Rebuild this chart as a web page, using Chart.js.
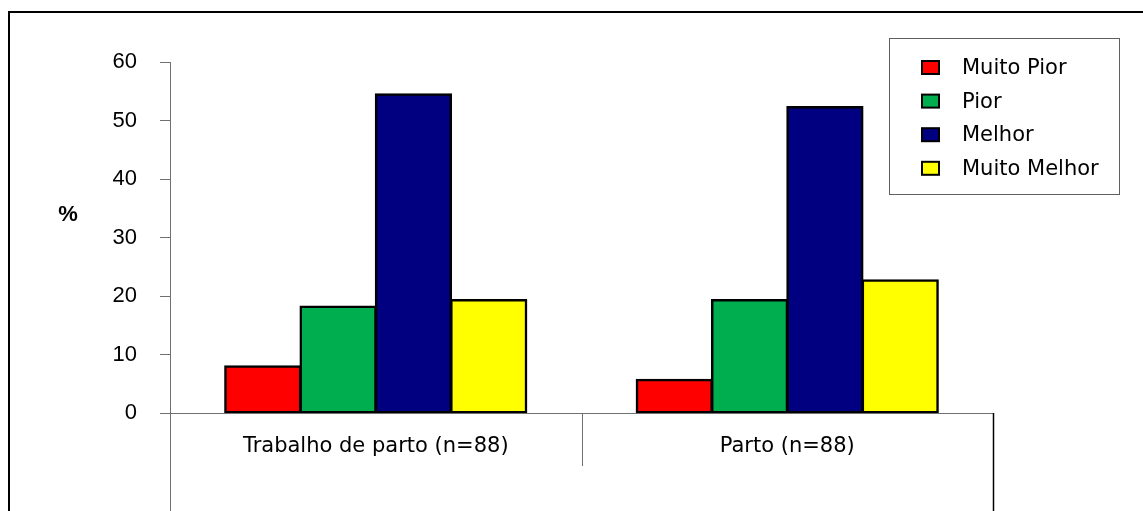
<!DOCTYPE html>
<html>
<head>
<meta charset="utf-8">
<script src="https://cdn.jsdelivr.net/npm/chart.js@4"></script>
<style>
  html, body { margin: 0; padding: 0; background: #fff; }
  canvas { display: block; }
</style>
</head>
<body>
<canvas id="chart" width="1143" height="511"></canvas>
<script>
// Categories and answer options (percent of n=88 in each group)
const categories = ['Trabalho de parto (n=88)', 'Parto (n=88)'];
const seriesNames = ['Muito Pior', 'Pior', 'Melhor', 'Muito Melhor'];
const muitoPior   = [8.0, 5.7];
const pior        = [18.2, 19.3];
const melhor      = [54.5, 52.3];
const muitoMelhor = [19.3, 22.7];
const seriesColors = ['#ff0000', '#00ae4f', '#000080', '#ffff00'];
const yTicks = [0, 10, 20, 30, 40, 50, 60];
const yTitle = '%';

const seriesValues = [muitoPior, pior, melhor, muitoMelhor];

// Outer frame, category dividers below the axis, y title and legend box
const framePlugin = {
  id: 'frame',
  beforeDraw(chart) {
    const ctx = chart.ctx;
    ctx.save();
    ctx.fillStyle = '#ffffff';
    ctx.fillRect(0, 0, chart.width, chart.height);
    ctx.strokeStyle = '#000000';
    ctx.lineWidth = 2;
    ctx.strokeRect(9, 12, chart.width + 20, chart.height + 20);
    ctx.restore();
  },
  afterDraw(chart) {
    const ctx = chart.ctx;
    const x = chart.scales.x;
    const area = chart.chartArea;
    const bottom = area.bottom;
    const mid = (x.getPixelForValue(0) + x.getPixelForValue(1)) / 2;
    ctx.save();
    ctx.lineWidth = 1;
    ctx.strokeStyle = '#707070';
    ctx.beginPath();
    ctx.moveTo(Math.round(area.left) + 0.5, bottom);
    ctx.lineTo(Math.round(area.left) + 0.5, chart.height);
    ctx.moveTo(Math.round(mid) + 0.5, bottom);
    ctx.lineTo(Math.round(mid) + 0.5, bottom + 53);
    ctx.stroke();
    ctx.strokeStyle = '#000000';
    ctx.lineWidth = 1.5;
    ctx.beginPath();
    ctx.moveTo(Math.round(area.right) + 0.5, bottom);
    ctx.lineTo(Math.round(area.right) + 0.5, chart.height);
    ctx.stroke();

    // y axis title
    ctx.fillStyle = '#000000';
    ctx.font = 'bold 22px "Liberation Sans", Arial, sans-serif';
    ctx.textAlign = 'center';
    ctx.textBaseline = 'middle';
    ctx.fillText(yTitle, 68, 215);

    // legend box
    const bx = 889, by = 38, bw = 230, bh = 156;
    ctx.strokeStyle = '#606060';
    ctx.lineWidth = 1;
    ctx.strokeRect(bx + 0.5, by + 0.5, bw, bh);
    ctx.font = '21px "DejaVu Sans", sans-serif';
    ctx.textAlign = 'left';
    chart.data.datasets.forEach((ds, i) => {
      const cy = 67.5 + i * 33.6;
      ctx.fillStyle = ds.backgroundColor;
      ctx.fillRect(922, cy - 6.5, 17, 13);
      ctx.strokeStyle = '#000000';
      ctx.lineWidth = 2;
      ctx.strokeRect(922, cy - 6.5, 17, 13);
      ctx.fillStyle = '#000000';
      ctx.fillText(ds.label, 962, cy + 1);
    });
    ctx.restore();
  }
};

new Chart(document.getElementById('chart'), {
  type: 'bar',
  data: {
    labels: categories,
    datasets: seriesNames.map((name, i) => ({
      label: name,
      data: seriesValues[i],
      backgroundColor: seriesColors[i],
      borderColor: '#000000',
      borderWidth: 2.5,
      borderSkipped: false,
      inflateAmount: 1,
      categoryPercentage: 0.732,
      barPercentage: 1.0
    }))
  },
  options: {
    responsive: false,
    animation: false,
    layout: { padding: { top: 62, right: 150, left: 0, bottom: 0 } },
    plugins: {
      legend: { display: false },
      tooltip: { enabled: false }
    },
    scales: {
      x: {
        grid: { display: false },
        border: { display: true, color: '#707070', width: 1 },
        ticks: {
          color: '#000000',
          padding: 13,
          maxRotation: 0,
          font: { family: '"DejaVu Sans", sans-serif', size: 21 }
        },
        afterFit(scale) { scale.height = 98; }
      },
      y: {
        min: 0,
        max: 60,
        afterBuildTicks(scale) { scale.ticks = yTicks.map(v => ({ value: v })); },
        grid: {
          drawOnChartArea: false,
          drawTicks: true,
          tickLength: 10,
          tickColor: '#707070',
          color: '#707070'
        },
        border: { display: true, color: '#707070', width: 1 },
        ticks: {
          color: '#000000',
          padding: 23,
          font: { family: '"Liberation Sans", Arial, sans-serif', size: 22 }
        },
        afterFit(scale) { scale.width = 170; }
      }
    }
  },
  plugins: [framePlugin]
});
</script>
</body>
</html>
